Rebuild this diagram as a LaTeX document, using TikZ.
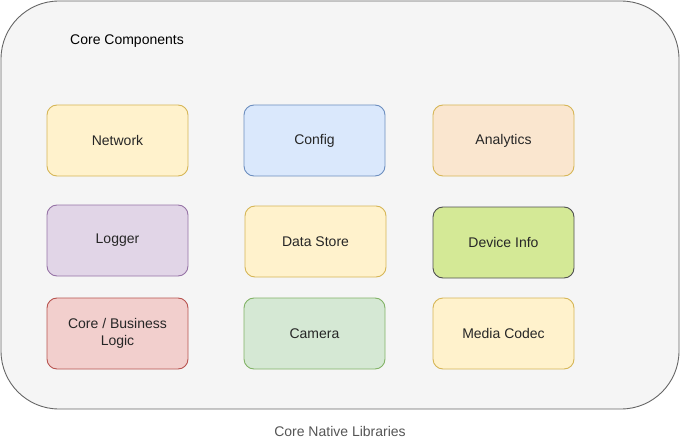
\documentclass[tikz,border=0pt]{standalone}
\usepackage{fontspec}
\setmainfont{Liberation Sans}
\usepackage{xcolor}
\usetikzlibrary{positioning}

\definecolor{outerfill}{HTML}{F5F5F5}
\definecolor{outerline}{HTML}{666666}
\definecolor{ylwfill}{HTML}{FFF2CC}
\definecolor{ylwline}{HTML}{D6B656}
\definecolor{blufill}{HTML}{DAE8FC}
\definecolor{bluline}{HTML}{6C8EBF}
\definecolor{orgfill}{HTML}{FAE6CF}
\definecolor{orgline}{HTML}{D6B656}
\definecolor{purfill}{HTML}{E1D5E7}
\definecolor{purline}{HTML}{9673A6}
\definecolor{redfill}{HTML}{F2CFCD}
\definecolor{redline}{HTML}{B85450}
\definecolor{grnfill}{HTML}{D5E8D4}
\definecolor{grnline}{HTML}{82B366}
\definecolor{limefill}{HTML}{D4E996}
\definecolor{limeline}{HTML}{505050}
\definecolor{captiongray}{HTML}{555555}

\tikzset{
  comp/.style={draw, line width=0.9pt, rounded corners=10pt,
    minimum width=141pt, minimum height=71pt, align=center,
    font=\fontsize{14pt}{17.5pt}\selectfont, text=black!85},
}

\begin{document}
\begin{tikzpicture}[x=1pt,y=-1pt]
  \useasboundingbox (0,0) rectangle (680,441);
  % --- Contenedor ---
  \filldraw[fill=outerfill, draw=outerline, line width=0.9pt, rounded corners=58pt]
    (1,1) rectangle (679,409);
  \node[anchor=west, inner sep=0pt, font=\fontsize{14pt}{16pt}\selectfont] (title) at (70,41) {Core Components};
  % --- Fila 1 ---
  \node[comp, fill=ylwfill, draw=ylwline] (network) at (117.5,140.5) {Network};
  \node[comp, fill=blufill, draw=bluline] (config) at (314.5,140.5) {Config};
  \node[comp, fill=orgfill, draw=orgline] (analytics) at (503.5,140.5) {Analytics};
  % --- Fila 2 ---
  \node[comp, fill=purfill, draw=purline] (logger) at (117.5,240.5) {Logger};
  \node[comp, fill=ylwfill, draw=ylwline] (datastore) at (315.5,241.5) {Data Store};
  \node[comp, fill=limefill, draw=limeline] (deviceinfo) at (503.5,242.5) {Device Info};
  % --- Fila 3 ---
  \node[comp, fill=redfill, draw=redline] (corelogic) at (117.5,333.5) {Core / Business\\Logic};
  \node[comp, fill=grnfill, draw=grnline] (camera) at (314.5,333.5) {Camera};
  \node[comp, fill=ylwfill, draw=ylwline] (mediacodec) at (503.5,333.5) {Media Codec};
  % --- Pie ---
  \node[font=\fontsize{14pt}{16pt}\selectfont, text=captiongray] (caption) at (340,431) {Core Native Libraries};
\end{tikzpicture}
\end{document}
